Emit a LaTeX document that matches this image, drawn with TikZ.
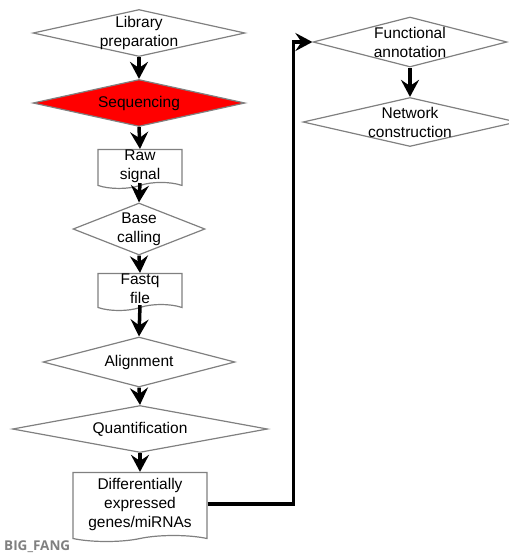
\documentclass[tikz,border=0pt]{standalone}
\usepackage{fontspec}
\setmainfont{Liberation Sans}
\newfontfamily\markfont{Open Sans}
\usetikzlibrary{shapes.geometric, shapes.symbols, arrows.meta}

\tikzset{
	steptext/.style = {align = center, inner sep = 0pt, font = \fontsize{15.5}{19}\selectfont},
	stepdia/.style = {diamond, draw = gray, line width = 1.2pt, inner sep = 0pt},
	stepdoc/.style = {tape, tape bend top = none, tape bend bottom = in and out, tape bend height = 6pt, draw = gray, line width = 1.2pt, steptext},
	flow/.style = {line width = 3.5pt, -{Stealth[length = 17pt, width = 18pt, inset = 6pt]}}
}

\begin{document}
\begin{tikzpicture}[x = 1pt, y = -1pt]
		\useasboundingbox (0,0) rectangle (509,558);
		\node[stepdia, minimum width = 212, minimum height = 47, label = {[steptext]center:Library\\preparation}] (lib) at (139,33) {};
		\node[stepdia, minimum width = 212, minimum height = 47, fill = red, label = {[steptext]center:Sequencing}] (seq) at (139,103) {};
		\node[stepdoc, minimum width = 84, minimum height = 38] (raw) at (140,166) {Raw\\signal};
		\node[stepdia, minimum width = 132, minimum height = 52, label = {[steptext]center:Base\\calling}] (base) at (139,229) {};
		\node[stepdoc, minimum width = 84, minimum height = 37] (fastq) at (140,289) {Fastq\\file};
		\node[stepdia, minimum width = 192, minimum height = 50, label = {[steptext]center:Alignment}] (align) at (139,362) {};
		\node[stepdia, minimum width = 255, minimum height = 47, label = {[steptext]center:Quantification}] (quant) at (140,429) {};
		\node[stepdoc, minimum width = 134, minimum height = 69] (deg) at (140,504) {Differentially\\expressed\\genes/miRNAs};
		\node[stepdia, minimum width = 194, minimum height = 50, label = {[steptext]center:Functional\\annotation}] (func) at (410,42) {};
		\node[stepdia, minimum width = 214, minimum height = 49, label = {[steptext]center:Network\\construction}] (net) at (410,122) {};
		\node[anchor = base west, inner sep = 0pt, text = gray, font = \markfont\bfseries\fontsize{13.5}{15}\selectfont] (mark) at (4,550) {BIG\_FANG};
		\draw[flow] (lib.south) -- (seq.north);
		\draw[flow] (seq.south) -- (raw.north);
		\draw[flow] (raw.south) -- (base.north);
		\draw[flow] (base.south) -- (fastq.north);
		\draw[flow] (fastq.south) -- (align.north);
		\draw[flow] (align.south) -- (quant.north);
		\draw[flow] (quant.south) -- (deg.north);
		\draw[flow] (deg.east) -- ++(86,0) |- (func.west);
		\draw[flow] (func.south) -- (net.north);
	\end{tikzpicture}
\end{document}
